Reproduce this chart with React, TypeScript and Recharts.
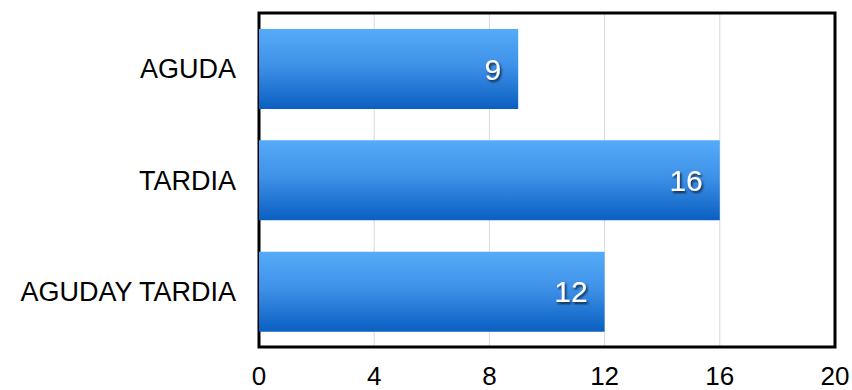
import { BarChart, Bar, XAxis, YAxis, CartesianGrid, LabelList, ReferenceArea } from 'recharts';

const categories = ['AGUDA', 'TARDIA', 'AGUDAY TARDIA'];
const counts = [9, 16, 12];
const xTicks = [0, 4, 8, 12, 16, 20];

const data = categories.map((name, i) => ({ name, value: counts[i] }));

const font = '"Liberation Sans", Arial, sans-serif';

export default function App() {
    return (
        <div style={{ position: 'absolute', left: 0, top: 0, width: 852, height: 390, background: '#fff' }}>
            <BarChart
                width={852}
                height={390}
                data={data}
                layout="vertical"
                margin={{ top: 13, right: 17, bottom: 0, left: 0 }}
                barSize={80}
            >
                <defs>
                    <linearGradient id="barFill" x1="0" y1="0" x2="0" y2="1">
                        <stop offset="0%" stopColor="#55abf9" />
                        <stop offset="45%" stopColor="#3f92e8" />
                        <stop offset="100%" stopColor="#0a5fc1" />
                    </linearGradient>
                    <filter id="txtShadow" x="-50%" y="-50%" width="200%" height="200%">
                        <feDropShadow dx="1.5" dy="2" stdDeviation="1" floodColor="#000" floodOpacity="0.7" />
                    </filter>
                </defs>
                <CartesianGrid horizontal={false} stroke="#d9d9d9" strokeWidth={1} />
                <XAxis
                    type="number"
                    domain={[0, 20]}
                    ticks={xTicks}
                    height={43}
                    axisLine={false}
                    tickLine={false}
                    tickSize={0}
                    tickMargin={20}
                    tick={{ fill: '#000', fontSize: 26, fontFamily: font }}
                    interval={0}
                />
                <YAxis
                    type="category"
                    dataKey="name"
                    width={259}
                    axisLine={false}
                    tickLine={false}
                    tickSize={0}
                    tickMargin={23}
                    tick={{ fill: '#000', fontSize: 27, fontFamily: font }}
                    interval={0}
                />
                <Bar dataKey="value" fill="url(#barFill)" isAnimationActive={false}>
                    <LabelList
                        dataKey="value"
                        position="insideRight"
                        offset={17}
                        fill="#fff"
                        fontSize={30}
                        fontFamily={font}
                        filter="url(#txtShadow)"
                    />
                </Bar>
                <ReferenceArea x1={0} x2={20} fill="none" stroke="#000" strokeWidth={3} ifOverflow="visible" />
            </BarChart>
        </div>
    );
}
